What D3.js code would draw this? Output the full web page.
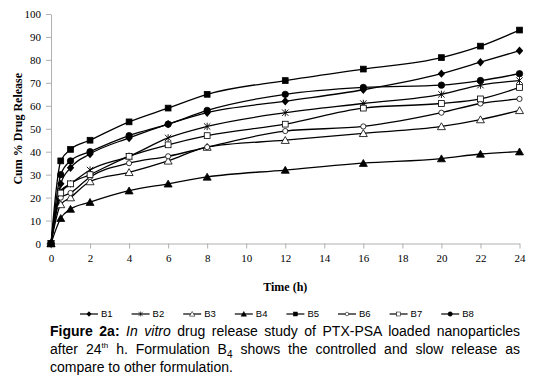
<!DOCTYPE html>
<html lang="en">
<head>
  <meta charset="UTF-8">
  <title>Drug release</title>
  <script src="https://d3js.org/d3.v7.min.js"></script>
  <style>
    body { margin: 0; background: #fff; }
    #wrap { position: relative; width: 534px; height: 388px; }
    #caption { position: absolute; left: 50px; top: 322px; width: 470px;
      font-family: "Liberation Sans", Arial, sans-serif; font-size: 14px; line-height: 18px; color: #000; }
    #caption div { text-align: justify; text-align-last: justify; white-space: nowrap; }
    #caption div.last { text-align-last: left; }
  </style>
</head>
<body>
<div id="wrap">
  <svg id="chart"></svg>
  <div id="caption">
    <div><b>Figure 2a:</b> <i>In vitro</i> drug release study of PTX-PSA loaded nanoparticles</div>
    <div>after 24<sup style="font-size:8px;line-height:0">th</sup> h. Formulation B<sub style="font-size:10px;line-height:0">4</sub> shows the controlled and slow release as</div>
    <div class="last">compare to other formulation.</div>
  </div>
</div>
<script>
  const times = [0, 0.5, 1, 2, 4, 6, 8, 12, 16, 20, 22, 24];
  const seriesNames = ["B1", "B2", "B3", "B4", "B5", "B6", "B7", "B8"];
  const B1 = [0, 26, 33, 39, 46, 52, 57, 62, 67, 74, 79, 84];
  const B2 = [0, 23, 26, 32, 38, 46, 51, 57, 61, 65, 69, 71];
  const B3 = [0, 17, 20, 27, 31, 36, 42, 45, 48, 51, 54, 58];
  const B4 = [0, 11, 15, 18, 23, 26, 29, 32, 35, 37, 39, 40];
  const B5 = [0, 36, 41, 45, 53, 59, 65, 71, 76, 81, 86, 93];
  const B6 = [0, 20, 22, 29, 35, 38, 42, 49, 51, 57, 61, 63];
  const B7 = [0, 22, 26, 30, 38, 43, 47, 52, 59, 61, 63, 68];
  const B8 = [0, 30, 36, 40, 47, 52, 58, 65, 68, 69, 71, 74];
  const xTicks = d3.range(0, 25, 2);
  const yTicks = d3.range(0, 101, 10);

  const values = [B1, B2, B3, B4, B5, B6, B7, B8];
  const markers = ["diamond", "star", "triOpen", "tri", "square", "circleOpen", "squareOpen", "circle"];

  const margin = {top: 14, right: 14, bottom: 144, left: 51},
        W = 534, H = 388,
        width = W - margin.left - margin.right,
        height = H - margin.top - margin.bottom;

  const svg = d3.select("#chart").attr("width", W).attr("height", H)
    .style("position", "absolute").style("left", 0).style("top", 0);

  const g = svg.append("g").attr("transform", `translate(${margin.left}, ${margin.top})`);

  const x = d3.scaleLinear().domain([0, 24]).range([0, width - 0.5]);
  const y = d3.scaleLinear().domain([0, 100]).range([229.5, 0]);

  const xAxis = d3.axisBottom(x).tickValues(xTicks).tickSize(5).tickSizeOuter(0);
  const yAxis = d3.axisLeft(y).tickValues(yTicks).tickSize(5).tickSizeOuter(0);

  const gx = g.append("g").attr("transform", `translate(0, ${y(0)})`).call(xAxis);
  const gy = g.append("g").call(yAxis);
  [gx, gy].forEach(a => {
    a.selectAll("path, line").attr("stroke", "#b0b0b0");
    a.selectAll("text").attr("font-family", "'Liberation Serif', 'Times New Roman', serif")
      .attr("font-size", 11).attr("fill", "#000");
  });
  gx.selectAll("text").attr("dy", "0.95em");
  gy.selectAll("text").attr("x", -10);

  g.append("text").attr("x", x(12)).attr("y", 277).attr("text-anchor", "middle")
    .attr("font-family", "'Liberation Serif', serif").attr("font-weight", "bold").attr("font-size", 12)
    .text("Time (h)");
  svg.append("text").attr("transform", `translate(22, ${margin.top + y(50)}) rotate(-90)`)
    .attr("text-anchor", "middle")
    .attr("font-family", "'Liberation Serif', serif").attr("font-weight", "bold").attr("font-size", 12)
    .text("Cum % Drug Release");

  const line = d3.line().x((d, i) => x(times[i])).y(d => y(d)).curve(d3.curveMonotoneX);

  function drawMarker(sel, type) {
    const s = 3.2;
    if (type === "diamond") {
      sel.append("path").attr("d", `M0,${-s - 1}L${s + 0.5},0L0,${s + 1}L${-s - 0.5},0Z`).attr("fill", "#000");
    } else if (type === "star") {
      sel.append("path").attr("d", `M${-s},${-s}L${s},${s}M${-s},${s}L${s},${-s}M0,${-s - 0.5}L0,${s + 0.5}`)
        .attr("stroke", "#000").attr("stroke-width", 0.9).attr("fill", "none");
    } else if (type === "tri" || type === "triOpen") {
      sel.append("path").attr("d", `M0,${-s - 0.5}L${s + 0.8},${s}L${-s - 0.8},${s}Z`)
        .attr("fill", type === "tri" ? "#000" : "#fff").attr("stroke", "#000").attr("stroke-width", 0.8);
    } else if (type === "square" || type === "squareOpen") {
      sel.append("rect").attr("x", -s + 0.3).attr("y", -s + 0.3).attr("width", 2 * s - 0.6).attr("height", 2 * s - 0.6)
        .attr("fill", type === "square" ? "#000" : "#fff").attr("stroke", "#000").attr("stroke-width", 0.8);
    } else {
      sel.append("circle").attr("r", type === "circle" ? s : s - 0.6)
        .attr("fill", type === "circle" ? "#000" : "#fff").attr("stroke", "#000").attr("stroke-width", 0.8);
    }
  }

  values.forEach((vals, k) => {
    g.append("path").attr("fill", "none").attr("stroke", "#000").attr("stroke-width", 1.3)
      .attr("d", line(vals));
  });
  values.forEach((vals, k) => {
    vals.forEach((v, i) => {
      const m = g.append("g").attr("transform", `translate(${x(times[i])}, ${y(v)})`);
      drawMarker(m, markers[k]);
    });
  });

  // legend
  const legend = svg.append("g").attr("transform", "translate(80, 314)");
  seriesNames.forEach((name, k) => {
    const item = legend.append("g").attr("transform", `translate(${k * 51.6}, 0)`);
    item.append("line").attr("x1", 0).attr("x2", 18).attr("stroke", "#000").attr("stroke-width", 1.2);
    const m = item.append("g").attr("transform", "translate(9, 0) scale(0.68)");
    drawMarker(m, markers[k]);
    item.append("text").attr("x", 21).attr("y", 3.3)
      .attr("font-family", "'Liberation Sans', Arial, sans-serif").attr("font-size", 9.5)
      .text(name);
  });
</script>
</body>
</html>
